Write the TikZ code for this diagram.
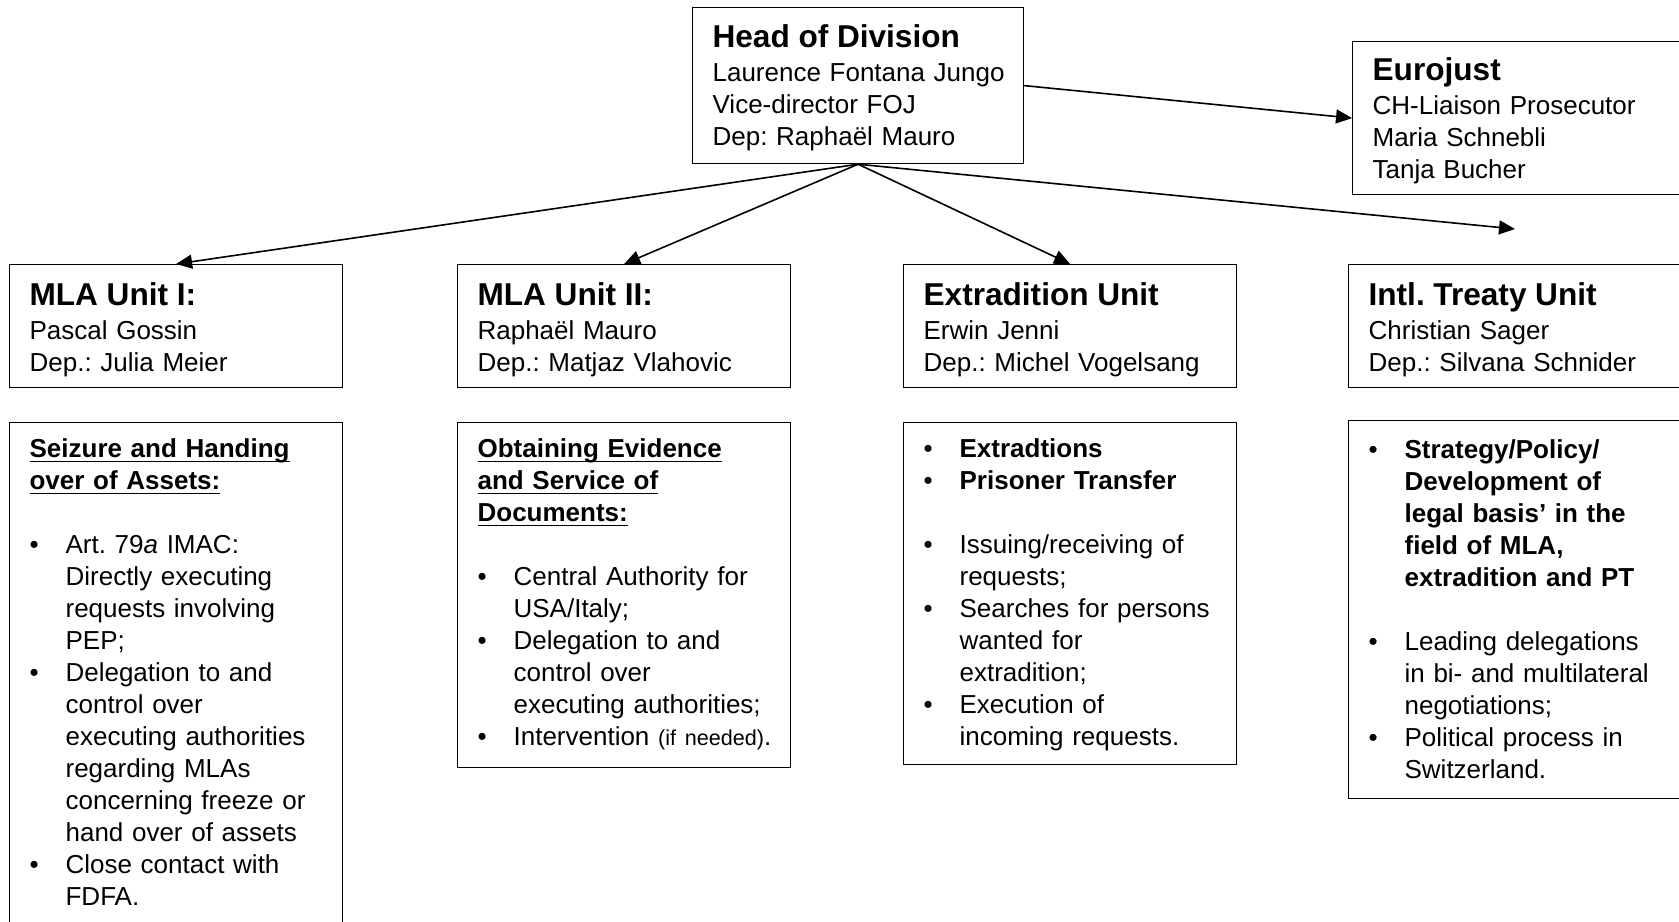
\documentclass[tikz,border=0pt]{standalone}
\usepackage{fontspec}
\setmainfont{Liberation Sans}
\usetikzlibrary{arrows.meta}
\frenchspacing
\newcommand\unittitle{\fontsize{15.8}{16}\selectfont\bfseries}
\newcommand\bodytext{\fontsize{13}{16}\selectfont}
\newcommand\smalltext{\fontsize{10.8}{16}\selectfont}
\newcommand\undl[1]{\leavevmode\setbox0=\hbox{#1}\rlap{\rule[-2.4pt]{\wd0}{0.9pt}}\box0}
\newcommand\bulletitem[1]{\hangindent=18pt\hangafter=1\makebox[18pt][l]{\textbullet}#1\par}
\begin{document}
\begin{tikzpicture}[x=0.5pt,y=-0.5pt,
  orgbox/.style={draw, line width=0.6pt, anchor=north west, inner xsep=10pt, inner ysep=0pt, align=left, font=\bodytext},
  unitbox/.style={orgbox, text width=146.5pt, text height=20.5pt, text depth=41pt},
  dutybox/.style={orgbox, text width=146.5pt, text height=17.5pt},
  arr/.style={-{Triangle[length=8pt,width=7pt]}, line width=0.8pt}]
\path[fill=white, use as bounding box] (0,0) rectangle (1679,921);
% top level
\node[orgbox, text width=145.5pt, text height=20pt, text depth=58pt] (head) at (692,7)
  {{\unittitle Head of Division}\\[1pt]Laurence~Fontana~Jungo\\Vice-director FOJ\\Dep: Raphaël Mauro};
\node[orgbox, text width=145pt, text height=19.5pt, text depth=57pt] (eurojust) at (1352,41)
  {{\unittitle Eurojust}\\[1pt]CH-Liaison Prosecutor\\Maria Schnebli\\Tanja Bucher};
% units
\node[unitbox] (mla1) at (9,264) {{\unittitle MLA Unit I:}\\[1pt]Pascal Gossin\\Dep.: Julia Meier};
\node[unitbox] (mla2) at (457,264) {{\unittitle MLA Unit II:}\\[1pt]Raphaël Mauro\\Dep.: Matjaz Vlahovic};
\node[unitbox] (extra) at (903,264) {{\unittitle Extradition Unit}\\[1pt]Erwin Jenni\\Dep.: Michel Vogelsang};
\node[unitbox] (treaty) at (1348,264) {{\unittitle Intl. Treaty Unit}\\[1pt]Christian Sager\\Dep.: Silvana Schnider};
% duties
\node[dutybox, text depth=236.5pt] (assets) at (9,422)
  {\textbf{\undl{Seizure and Handing}\\\undl{over of Assets:}}\par\vspace{16pt}
   \bulletitem{Art. 79\textit{a} IMAC:\newline Directly executing\newline requests involving\newline PEP;}
   \bulletitem{Delegation to and\newline control over\newline executing~authorities\newline regarding MLAs\newline concerning~freeze~or\newline hand over of assets}
   \bulletitem{Close contact with\newline FDFA.}};
\node[dutybox, text depth=155pt] (evidence) at (457,422)
  {\textbf{\undl{Obtaining Evidence}\\\undl{and Service of}\\\undl{Documents:}}\par\vspace{16pt}
   \bulletitem{Central~Authority~for\newline USA/Italy;}
   \bulletitem{Delegation to and\newline control over\newline executing~authorities;}
   \bulletitem{Intervention~{\smalltext(if~needed)}.}};
\node[dutybox, text depth=153.5pt] (extraditions) at (903,422)
  {\bulletitem{\textbf{Extradtions}}
   \bulletitem{\textbf{Prisoner Transfer}}
   \vspace{16pt}
   \bulletitem{Issuing/receiving~of\newline requests;}
   \bulletitem{Searches~for~persons\newline wanted for\newline extradition;}
   \bulletitem{Execution of\newline incoming requests.}};
\node[dutybox, text height=19pt, text depth=170pt] (policy) at (1348,420)
  {\bulletitem{\textbf{Strategy/Policy/\newline Development of\newline legal~basis’~in~the\newline field of MLA,\newline extradition~and~PT}}
   \vspace{16pt}
   \bulletitem{Leading~delegations\newline \mbox{in bi- and multilateral}\newline negotiations;}
   \bulletitem{Political~process~in\newline Switzerland.}};
% connectors
\coordinate (treatyend) at (1515,229);
\draw[arr] (head.east) -- (eurojust.west);
\draw[arr] (head.south) -- (mla1.north);
\draw[arr] (head.south) -- (mla2.north);
\draw[arr] (head.south) -- (extra.north);
\draw[arr] (head.south) -- (treatyend);
\end{tikzpicture}
\end{document}
